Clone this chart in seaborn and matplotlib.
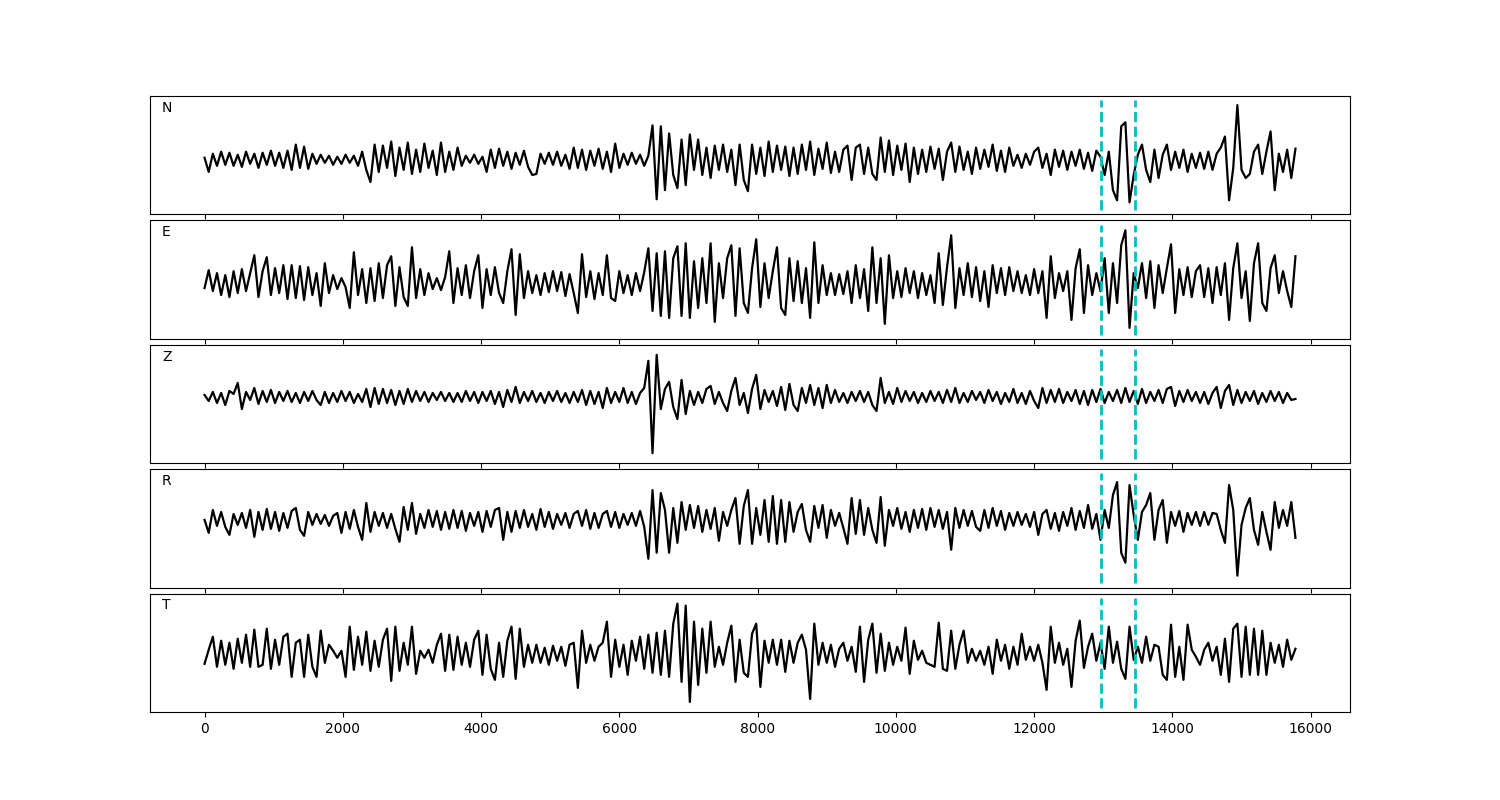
import numpy as np
import pandas as pd
import matplotlib
matplotlib.use("Agg")
import matplotlib.pyplot as plt
import seaborn as sns

# componentes e amostras (intervalo de 60 entre amostras)
components = ["N", "E", "Z", "R", "T"]
dt = 60
picks = [12970, 13460]

trace_n = [
    2, -12, 6, -6, 8, -5, 7, -6, 5, -7, 8, -4, 6, -8, 7, -5, 9, -6, 7, -8,
    9, -10, 15, -8, 13, -9, 6, -4, 5, -3, 4, -5, 3, -4, 5, -3, 4, -6, 8, -10,
    -22, 15, -12, 14, -8, 18, -16, 12, -10, 17, -14, 10, -12, 16, -8, 9, -15, 17, -12, 8,
    -10, 12, -6, 4, -3, 5, -4, 3, -12, 10, -8, 11, -6, 8, -9, 7, -5, 9, -7, -15,
    -14, 6, -4, 7, -5, 8, -6, 5, -9, 12, -8, 10, -10, 9, -6, 11, -9, 8, -12, 16,
    -8, 6, -5, 7, -4, 5, -6, 4, 34, -39, 33, -30, 26, -15, -28, 20, -25, 25, -10, 20,
    -15, 12, -18, 14, -10, 15, -12, 10, -25, 15, -20, -31, 15, -14, 12, -16, 18, -12, 14, -10,
    13, -16, 12, -14, 15, -10, 18, -15, 11, -9, 17, -13, 8, -12, 10, 14, -20, 12, 15, -14,
    12, -14, -20, 22, -12, 19, -15, 14, -10, 16, -22, 12, -14, 10, -12, 13, -9, 11, -20, 8,
    17, -12, 13, -10, 8, -14, 12, -9, 10, -7, 15, -11, 9, -12, 12, -6, 5, -8, 6, -5,
    8, 12, -8, 6, -15, 10, -7, 9, -10, 8, -6, 10, -9, 7, -11, 9, 3, -15, 8, -30,
    -40, 33, 37, -42, -15, 5, 15, -10, -22, 10, -18, 5, 15, -10, 8, -8, 10, -12, 6, -8,
    7, -9, 8, -10, 6, 12, 23, -40, -8, 54, -10, -18, -14, 8, 15, -14, 8, 28, -30, 6,
    -12, 10, -18, 11,
]

trace_e = [
    -5, 13, -8, 10, -12, 8, -14, 12, -10, 14, -8, 10, 28, -14, 12, 26, -12, 15, -10, 18,
    -16, 18, -15, 17, -17, 16, -12, 10, -23, 20, -10, 8, -6, 5, -4, -25, 31, -12, 14, -20,
    15, -18, 20, -15, 18, 27, -23, 16, -14, -23, 36, -15, 14, -12, 10, -6, 5, -7, 6, 32,
    -20, 15, -12, 18, -15, 12, 28, -25, 14, -12, 16, -10, -20, 12, 34, -32, 29, -15, 12, -10,
    8, -12, 10, -9, 12, -8, 11, -13, 9, -10, -30, 29, -14, 12, -16, 10, -12, 28, -15, -18,
    12, -10, 8, -12, 10, -8, 11, 35, -28, 30, -33, 32, -35, 25, 37, -33, 40, -35, 22, -25,
    25, -20, 40, -39, 20, -15, 25, 38, -33, 35, -20, -30, 15, 44, -24, 20, -15, 12, 36, -25,
    -32, 25, -18, 22, -20, 15, -35, 41, -20, 18, -12, 10, -12, 9, -11, 12, -20, 18, -15, 14,
    -28, 36, -20, 25, -41, 28, -15, 12, -14, 15, -10, 12, -15, 10, -12, 8, -20, 30, -22, 16,
    48, -25, 15, -12, 20, -14, 16, -18, 12, -24, 18, -10, 15, -12, 16, -8, 12, -10, 8, -12,
    14, -10, 12, -35, 27, -15, 10, -8, 12, -37, 15, 34, -30, 18, -12, 10, -8, 25, -30, 20,
    -20, 38, 53, -45, 10, -5, 20, -15, 22, -25, 18, -10, 15, 39, -30, 14, -12, 16, -14, 12,
    18, -14, 15, -20, 16, -12, 20, -37, 15, 40, -15, 12, -38, 20, 40, -20, -28, 15, 28, -10,
    12, -8, -24, 27,
]

trace_z = [
    2, -4, 5, -6, 4, -8, 6, 3, 14, -12, 5, -3, 9, -7, 6, -5, 7, -6, 5, -4,
    6, -5, 4, -6, 5, -4, 6, -3, -8, 5, -6, 4, -5, 6, -4, 5, -6, 3, -5, 8,
    -10, 9, -7, 8, -6, 7, -8, 6, -7, 8, -5, 6, -4, 5, -5, 4, -3, 5, -4, 4,
    -5, 4, -5, 6, -4, 5, -6, 5, -4, 6, -7, 5, -10, 7, -5, 10, -6, 5, -4, 6,
    -5, 4, -6, 5, -4, 6, -5, 4, -6, 5, -5, 7, -8, 6, -7, 5, -11, 9, -6, 5,
    -5, 9, -6, 5, -7, 4, 9, 36, -56, 42, -12, 8, 15, -10, -22, 17, -17, 6, -8, 5,
    -6, 8, 11, -7, 5, -6, -14, 6, 19, -8, 4, -16, 8, 22, -12, 7, -5, 6, -9, 10,
    -13, 13, -8, -14, 9, -6, 12, -8, 9, -11, 12, -6, 7, -5, 4, -6, 5, -4, 6, -5,
    5, -8, -14, 19, -6, 5, -7, 9, -5, 6, -4, 5, -6, 4, -5, 6, -4, 5, -6, 7,
    -5, 9, -6, 4, -5, 6, -3, 5, -6, 7, -4, 5, -7, 4, -5, 8, -6, 4, -7, 6,
    -4, -11, 9, -6, 7, -5, 8, -6, 5, -4, 7, -7, 6, -8, 7, -5, 8, -6, 5, -4,
    7, -6, 9, -5, 6, -7, 8, -6, 5, -4, 7, -6, 8, 10, -9, 6, -5, 7, -4, 5,
    -6, 5, -7, 4, 10, -11, 6, 12, -8, 7, -6, 5, -4, 6, -7, 4, -5, 6, -4, 5,
    -6, 4, -3, -2,
]

trace_r = [
    0, -13, 10, -6, 8, -7, -15, 6, -5, 7, -8, 10, -17, 8, -10, 11, -9, 8, -11, 7,
    -8, 9, 12, -10, -16, 8, -5, 6, -4, 5, -6, 4, 7, -13, 8, -9, 10, -7, -20, 17,
    -12, 8, -6, 7, -8, 6, -9, -22, 13, -10, 17, -14, 6, -8, 10, -7, 9, -10, 8, -9,
    10, -8, 9, -11, 7, -6, 8, -12, 9, -7, 10, 12, -20, 8, -12, 9, -8, 10, -7, 6,
    -10, 11, -7, 8, -9, 6, -5, 7, -8, 6, 9, -6, 10, -9, 7, -8, 6, 9, -7, 8,
    -8, 6, -5, 7, -6, 9, -7, -39, 30, -33, 27, 10, -33, 12, -23, 18, -10, 15, -8, 14,
    -12, 10, -9, 12, -21, 8, -6, 10, 22, -24, 14, 30, -24, 12, -15, 20, -22, 24, -24, 20,
    -22, 18, -12, 8, 16, -10, -22, 14, -8, 15, -18, 10, -6, 7, -8, -24, 22, -14, 20, -15,
    12, -10, -23, 23, -26, 10, -6, 12, -9, 8, -12, 10, -8, 11, -10, 12, -7, 10, -9, 8,
    -30, 12, -8, 10, -6, 9, -7, -11, 10, -8, 12, -6, 9, -10, 7, -6, 8, -5, 6, -7,
    8, -15, 6, 10, -9, 7, -11, 8, -6, 12, -10, 9, -8, 15, -9, 6, -20, 10, -8, 25,
    38, -33, -43, 35, 5, -20, 8, 15, 27, -20, 10, 20, -23, 8, -6, 9, -12, 7, -5, 8,
    -6, 8, -5, 7, 6, -10, -23, 35, 10, -56, -5, 12, 22, -10, -25, 8, -12, -30, 18, -8,
    10, -6, 18, -18,
]

trace_t = [
    -9, 5, 18, -12, 14, -10, 12, -14, 16, -8, 20, -12, 25, -12, -10, 26, -14, 15, -10, 18,
    21, -22, 12, 15, -22, 20, -12, -22, 24, -8, 10, 4, -3, 4, -22, 28, -15, 18, -10, 23,
    -16, 14, -12, 15, 26, -26, 28, -16, 12, -10, 28, -19, 4, -3, 5, -8, 10, 21, -16, 20,
    -15, 18, -10, 12, -12, 15, 24, -20, 20, -14, -25, 12, -22, 14, 28, -24, 26, -12, 10, -8,
    10, -8, 7, -10, 9, -6, 8, -11, 10, 12, -33, 24, -8, 10, -6, 8, 12, 33, -22, 15,
    -12, 10, -20, 14, -6, 18, -14, 20, -18, 22, -20, 24, -22, 31, 51, -27, 49, -47, 33, -30,
    26, -18, 33, -12, 8, -10, 12, 29, -27, 15, -18, -22, 21, 31, -32, 14, -8, 15, -10, 15,
    -17, 14, -8, 12, 20, 5, -44, 31, -10, 12, -8, 10, -12, 6, 12, -6, 8, -17, 28, -27,
    15, 31, -18, 21, -16, 12, -10, 8, -6, 27, -19, 14, -5, 4, -8, -10, -12, 32, -14, -16,
    24, -14, 10, 24, -8, 6, -6, 4, -10, 8, -19, 15, -6, 10, -14, 8, -10, 21, -5, 8,
    -6, 10, -8, -35, 28, -8, 12, -10, 6, -32, 14, 34, -13, 8, 21, -6, 12, -14, 28, -8,
    13, -14, -24, 28, -5, 8, -8, 18, -6, 10, 8, -20, -25, 30, -22, 8, -25, 30, 5, -2,
    -10, 5, 12, -6, 8, -20, 16, -27, 26, 31, -22, 28, -20, 26, -20, 24, -20, 12, -8, 10,
    -12, 15, -5, 6,
]

traces = [trace_n, trace_e, trace_z, trace_r, trace_t]
ylims = [(-54, 63), (-56, 63), (-66, 52), (-68, 51), (-57, 61)]

fig, axes = plt.subplots(5, 1, figsize=(15, 8), dpi=100, sharex=True)
fig.subplots_adjust(left=0.1, right=0.9, top=0.88, bottom=0.11, hspace=0.05)

for ax, comp, vals, yl in zip(axes, components, traces, ylims):
    df = pd.DataFrame({"t": np.arange(len(vals)) * dt, "amp": vals})
    sns.lineplot(data=df, x="t", y="amp", ax=ax, color="k", linewidth=1.6)
    for p in picks:
        ax.axvline(p, ymin=0.035, ymax=0.965, color="c", linestyle="--", linewidth=2)
    ax.set_ylim(*yl)
    ax.set_yticks([])
    ax.set_xlabel("")
    ax.set_ylabel("")
    ax.text(0.01, 0.9, comp, transform=ax.transAxes, va="center", ha="left", fontsize=10)

axes[-1].set_xticks(range(0, 16001, 2000))

fig.savefig("out.png", dpi=100)
